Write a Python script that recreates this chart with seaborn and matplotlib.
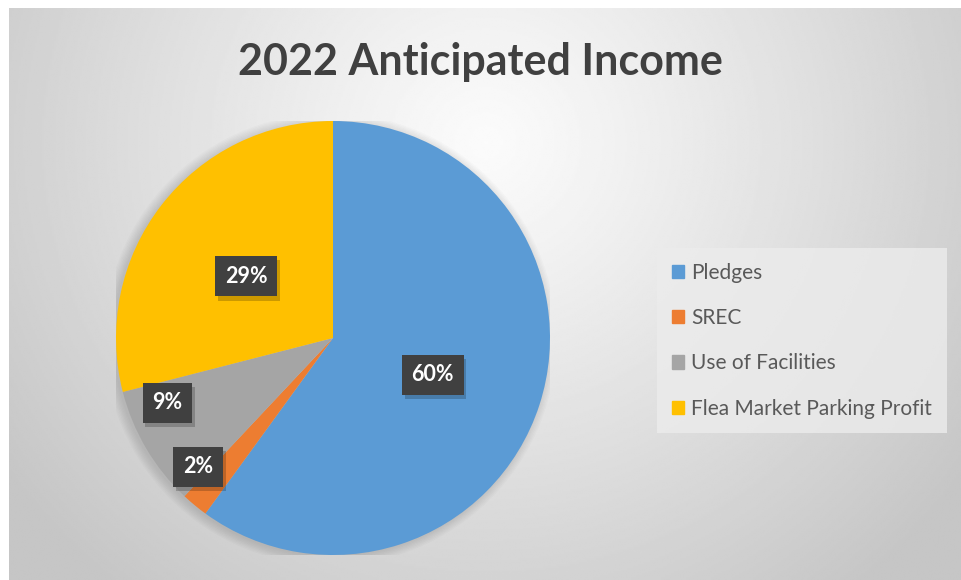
import numpy as np
import matplotlib.pyplot as plt
import matplotlib.patches as mpatches
import matplotlib.patheffects as pe
import seaborn as sns

CATEGORIES = ["Pledges", "SREC", "Use of Facilities", "Flea Market Parking Profit"]
SHARES = [60, 2, 9, 29]
PCT_LABELS = ["60%", "2%", "9%", "29%"]
COLORS = ["#5B9BD5", "#ED7D31", "#A5A5A5", "#FFC000"]
TITLE = "2022 Anticipated Income"

# label placement: (radius fraction, angle shift in degrees from wedge middle)
LABEL_PLACE = [(0.49, -2.3), (0.86, -6.7), (0.82, -9.2), (0.49, 2.3)]

sns.set_style("white")
plt.rcParams["font.family"] = ["Lato", "DejaVu Sans"]

W, H = 961, 580
fig = plt.figure(figsize=(W / 100, H / 100), dpi=100)
fig.patch.set_facecolor("white")

# chart area background: soft radial gradient
bg = fig.add_axes([9 / W, 0, (W - 9) / W, (H - 8) / H])
yy, xx = np.mgrid[0:300, 0:500]
d = np.sqrt(((xx - 250) / 500) ** 2 + ((yy - 70) / 300 * 0.62) ** 2)
d = np.clip(d / 0.62, 0, 1)
shade = 0.985 - 0.21 * d ** 1.1
bg.imshow(shade, cmap="gray", vmin=0, vmax=1, aspect="auto",
          extent=[0, 1, 0, 1], origin="upper", interpolation="bilinear")
bg.set_axis_off()

fig.text(0.5, 1 - 62 / H, TITLE, ha="center", va="center",
         fontsize=31, fontweight="bold", color="#404040")

# pie
cx, cy, r = 333, 338, 217
ax = fig.add_axes([(cx - r) / W, (H - cy - r) / H, 2 * r / W, 2 * r / H])
ax.set_axis_off()

# soft shadow behind the pie
for k in range(8):
    ax.add_patch(mpatches.Circle((-0.012, -0.006), 1.0 + 0.006 * k,
                                 facecolor="black", alpha=0.015, linewidth=0,
                                 zorder=0))

wedges, _ = ax.pie(SHARES, colors=COLORS, startangle=90, counterclock=False,
                   radius=1, wedgeprops=dict(linewidth=0, zorder=1))
ax.set_xlim(-1, 1)
ax.set_ylim(-1, 1)
ax.set_aspect("equal")

for w, lab, (rf, shift) in zip(wedges, PCT_LABELS, LABEL_PLACE):
    mid = np.deg2rad((w.theta1 + w.theta2) / 2 + shift)
    x, y = rf * np.cos(mid), rf * np.sin(mid)
    t = ax.text(x, y, lab, ha="center", va="center", fontsize=15.5,
                fontweight="bold", color="white", zorder=5,
                bbox=dict(boxstyle="square,pad=0.45", facecolor="#404040",
                          edgecolor="none", linewidth=0))
    t.get_bbox_patch().set_path_effects(
        [pe.SimplePatchShadow(offset=(2, -3), shadow_rgbFace="black", alpha=0.2),
         pe.Normal()])

handles = [mpatches.Patch(color=c, label=l) for c, l in zip(COLORS, CATEGORIES)]
leg = fig.legend(handles=handles, loc="upper left",
                 bbox_to_anchor=(657 / W, 1 - 248 / H), frameon=True,
                 fontsize=15, handlelength=0.6, handleheight=0.6,
                 handletextpad=0.35, labelspacing=1.22, borderpad=0.7,
                 borderaxespad=0, fancybox=False)
leg.get_frame().set_facecolor("#ececec")
leg.get_frame().set_edgecolor("none")
leg.get_frame().set_alpha(0.8)
for t in leg.get_texts():
    t.set_color("#595959")

fig.savefig("out.png", dpi=100)
